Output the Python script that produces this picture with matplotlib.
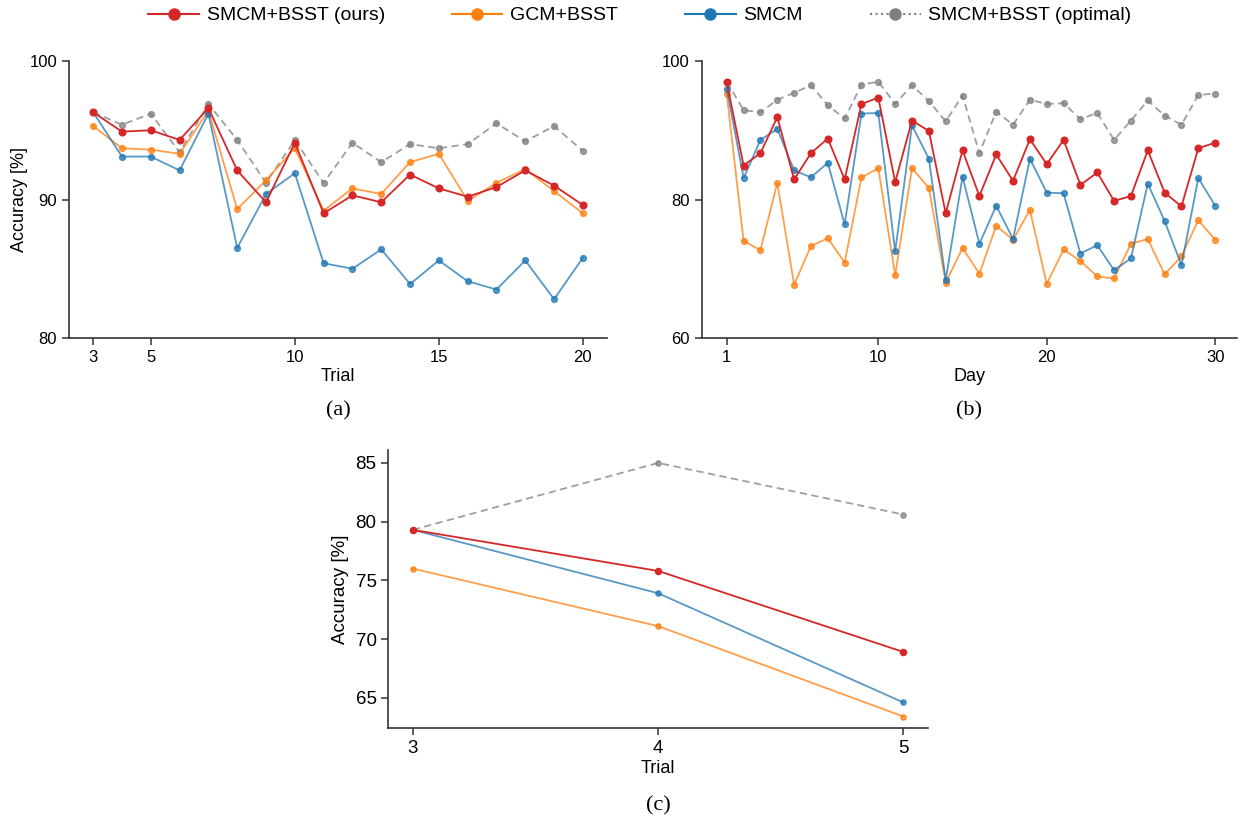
import numpy as np
import matplotlib.pyplot as plt
from matplotlib.lines import Line2D

plt.rcParams['font.family'] = ['Liberation Sans', 'DejaVu Sans']

# (a) accuracy per trial
trials_a = np.arange(3, 21)
ours_a = [96.3, 94.9, 95.0, 94.3, 96.6, 92.1, 89.8, 94.1, 89.0, 90.3,
          89.8, 91.8, 90.8, 90.2, 90.9, 92.1, 91.0, 89.6]
gcm_a = [95.3, 93.7, 93.6, 93.3, 96.4, 89.3, 91.4, 93.7, 89.2, 90.8,
         90.4, 92.7, 93.3, 89.9, 91.2, 92.2, 90.6, 89.0]
smcm_a = [96.3, 93.1, 93.1, 92.1, 96.2, 86.5, 90.4, 91.9, 85.4, 85.0,
          86.4, 83.9, 85.6, 84.1, 83.5, 85.6, 82.8, 85.8]
opt_a = [96.3, 95.4, 96.2, 93.4, 96.9, 94.3, 91.2, 94.3, 91.2, 94.1,
         92.7, 94.0, 93.7, 94.0, 95.5, 94.2, 95.3, 93.5]

# (b) accuracy per day
days_b = np.arange(1, 31)
ours_b = [96.9, 84.9, 86.7, 91.9, 82.9, 86.7, 88.8, 82.9, 93.8, 94.7,
          82.5, 91.4, 89.9, 78.0, 87.1, 80.5, 86.5, 82.7, 88.7, 85.1,
          88.6, 82.1, 83.9, 79.8, 80.5, 87.1, 81.0, 79.0, 87.4, 88.2]
gcm_b = [95.2, 74.0, 72.7, 82.4, 67.7, 73.3, 74.4, 70.9, 83.2, 84.5,
         69.1, 84.5, 81.7, 68.0, 73.0, 69.3, 76.2, 74.2, 78.5, 67.8,
         72.8, 71.1, 68.9, 68.6, 73.6, 74.3, 69.2, 71.8, 77.0, 74.2]
smcm_b = [96.0, 83.1, 88.6, 90.2, 84.2, 83.2, 85.3, 76.4, 92.4, 92.5,
          72.5, 90.7, 85.9, 68.4, 83.3, 73.6, 79.1, 74.3, 85.9, 81.0,
          80.9, 72.2, 73.4, 69.8, 71.5, 82.3, 76.9, 70.5, 83.1, 79.1]
opt_b = [97.0, 92.9, 92.6, 94.4, 95.4, 96.5, 93.6, 91.7, 96.6, 97.0,
         93.8, 96.5, 94.2, 91.3, 95.0, 86.7, 92.7, 90.8, 94.4, 93.8,
         93.9, 91.6, 92.5, 88.6, 91.4, 94.3, 92.1, 90.8, 95.1, 95.3]

# (c) accuracy per trial, short run
trials_c = [3, 4, 5]
ours_c = [79.3, 75.8, 68.9]
gcm_c = [76.0, 71.1, 63.4]
smcm_c = [79.3, 73.9, 64.6]
opt_c = [79.3, 85.0, 80.6]

labels = ['SMCM+BSST (ours)', 'GCM+BSST', 'SMCM', 'SMCM+BSST (optimal)']
colors = ['#d62728', '#ff7f0e', '#1f77b4', '#7f7f7f']

fig = plt.figure(figsize=(12.45, 8.21), dpi=100)
ax_a = fig.add_axes([0.0554, 0.5883, 0.432, 0.3374])
ax_b = fig.add_axes([0.5636, 0.5883, 0.430, 0.3374])
ax_c = fig.add_axes([0.3119, 0.1129, 0.4335, 0.3390])


def draw(ax, x, series, ms):
    # order: optimal at back, ours on top
    ax.plot(x, series[3], '--', color=colors[3], alpha=0.75, lw=1.3,
            marker='o', ms=ms, dashes=(4, 2.5))
    ax.plot(x, series[1], '-', color=colors[1], alpha=0.75, lw=1.3,
            marker='o', ms=ms)
    ax.plot(x, series[2], '-', color=colors[2], alpha=0.75, lw=1.3,
            marker='o', ms=ms)
    ax.plot(x, series[0], '-', color=colors[0], lw=1.3,
            marker='o', ms=ms + 0.6)
    for s in ['top', 'right']:
        ax.spines[s].set_visible(False)
    for s in ['left', 'bottom']:
        ax.spines[s].set_color('#333333')
        ax.spines[s].set_linewidth(1.2)
    ax.tick_params(color='#333333', length=5, width=1.1)


draw(ax_a, trials_a, [ours_a, gcm_a, smcm_a, opt_a], 4.2)
ax_a.set_xlim(2.16, 20.83)
ax_a.set_ylim(80, 100)
ax_a.set_xticks([3, 5, 10, 15, 20])
ax_a.set_yticks([80, 90, 100])
ax_a.tick_params(labelsize=12)
ax_a.set_xlabel('Trial', fontsize=13, labelpad=2)
ax_a.set_ylabel('Accuracy [%]', fontsize=13, labelpad=1)

draw(ax_b, days_b, [ours_b, gcm_b, smcm_b, opt_b], 4.2)
ax_b.set_xlim(-0.49, 31.3)
ax_b.set_ylim(60, 100)
ax_b.set_xticks([1, 10, 20, 30])
ax_b.set_yticks([60, 80, 100])
ax_b.tick_params(labelsize=12)
ax_b.set_xlabel('Day', fontsize=13, labelpad=2)

draw(ax_c, trials_c, [ours_c, gcm_c, smcm_c, opt_c], 3.8)
ax_c.set_xlim(2.9, 5.1)
ax_c.set_ylim(62.4, 86.1)
ax_c.set_xticks(trials_c)
ax_c.set_yticks([65, 70, 75, 80, 85])
ax_c.tick_params(labelsize=13.5)
ax_c.set_xlabel('Trial', fontsize=13, labelpad=2)
ax_c.set_ylabel('Accuracy [%]', fontsize=13.5, labelpad=5)

# panel captions
for txt, x, y in [('(a)', 0.2715, 0.499), ('(b)', 0.7783, 0.499), ('(c)', 0.5286, 0.018)]:
    fig.text(x, y, txt, ha='center', va='center', fontsize=16,
             family=['Liberation Serif', 'DejaVu Serif'])

handles = [
    Line2D([], [], color=colors[0], lw=1.5, marker='o', ms=8),
    Line2D([], [], color=colors[1], lw=1.5, marker='o', ms=8),
    Line2D([], [], color=colors[2], lw=1.5, marker='o', ms=8),
    Line2D([], [], color=colors[3], lw=1.5, marker='o', ms=8, ls=':'),
]
fig.legend(handles, labels, loc='center', bbox_to_anchor=(0.514, 0.981),
           ncol=4, frameon=False, fontsize=14, handlelength=2.6,
           handletextpad=0.4, columnspacing=3.45)

fig.savefig('out.png', dpi=100)
